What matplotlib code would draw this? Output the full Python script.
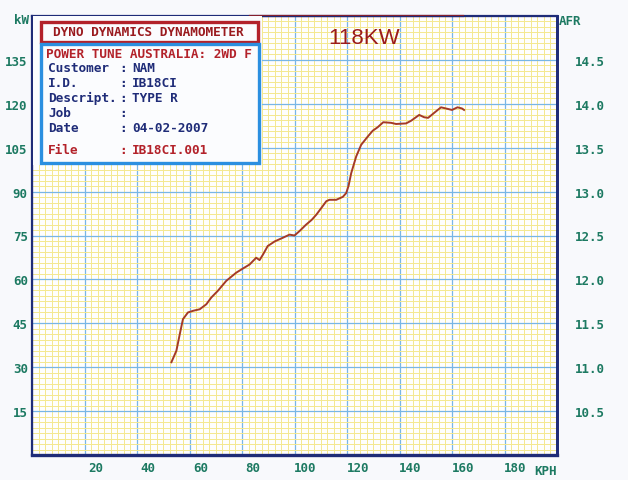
import numpy as np
import matplotlib
matplotlib.use('Agg')
from matplotlib import pyplot as plt
from matplotlib.patches import Rectangle
from matplotlib.ticker import MultipleLocator
import matplotlib.transforms as mtransforms

# dyno run
speed = [53.1, 55.0, 56.3, 57.5, 59.4, 61.5, 63.9, 66.4, 68.3, 70.8, 74.0, 77.8, 80.5, 82.9,
         85.4, 86.7, 88.0, 89.8, 92.5, 95.5, 98.1, 100.0, 101.9, 104.4, 106.5, 108.3, 110.3,
         112.1, 113.3, 115.9, 118.4, 119.7, 120.6, 121.6, 123.5, 125.4, 127.9, 129.8, 131.7,
         133.8, 136.8, 138.7, 142.5, 144.4, 147.5, 149.4, 150.9, 153.2, 155.8, 157.7, 160.0,
         162.1, 163.8, 164.6]
power = [31.7, 35.6, 41.3, 46.4, 48.7, 49.3, 49.8, 51.5, 53.8, 56.1, 59.5, 62.3, 63.8, 65.1,
         67.4, 66.6, 68.5, 71.4, 73.0, 74.2, 75.3, 75.0, 76.5, 78.7, 80.3, 82.1, 84.5,
         86.7, 87.2, 87.2, 88.2, 89.5, 92.0, 96.3, 102.0, 106.0, 108.8, 110.8, 112.0,
         113.7, 113.5, 113.1, 113.3, 114.2, 116.2, 115.4, 115.2, 116.9, 118.8, 118.4, 117.9,
         118.8, 118.4, 117.9]

kw_ticks = [15, 30, 45, 60, 75, 90, 105, 120, 135]
afr_ticks = [10.5, 11.0, 11.5, 12.0, 12.5, 13.0, 13.5, 14.0, 14.5]
kph_ticks = [20, 40, 60, 80, 100, 120, 140, 160, 180]

info_rows = [('Customer', 'NAM'), ('I.D.', 'IB18CI'), ('Descript.', 'TYPE R'),
             ('Job', ''), ('Date', '04-02-2007')]

navy = '#1f2c78'
teal = '#1d7a62'
red = '#b3222a'
mono = 'DejaVu Sans Mono'

W, H = 628, 481
fig = plt.figure(figsize=(W / 100, H / 100), dpi=100)
fig.patch.set_facecolor('#f8f9fc')
ax = fig.add_axes([32 / W, 25 / H, 525 / W, 439 / H])
ax.set_facecolor('#fefefe')

ax.set_xlim(0, 200)
ax.set_ylim(0, 150)
ax.xaxis.set_major_locator(MultipleLocator(20))
ax.xaxis.set_minor_locator(MultipleLocator(2.5))
ax.yaxis.set_major_locator(MultipleLocator(15))
ax.yaxis.set_minor_locator(MultipleLocator(1.875))
ax.grid(which='minor', color='#f4e890', lw=0.7)
ax.grid(which='major', color='#78b6e6', lw=0.9)
ax.set_axisbelow(True)

ax.plot(speed, power, color='#a53a26', lw=1.4, zorder=3)

ax.set_yticks(kw_ticks)
ax.set_yticklabels([str(v) for v in kw_ticks])
ax.set_xticks(kph_ticks)
ax.set_xticklabels([str(v) for v in kph_ticks])
ax.tick_params(axis='both', which='both', length=0, colors=teal)
ax.tick_params(axis='y', pad=3)
ax.tick_params(axis='x', pad=4)
off = mtransforms.ScaledTranslation(11 / 100, 0, fig.dpi_scale_trans)
for lab in ax.get_xticklabels():
    lab.set_transform(lab.get_transform() + off)
for lab in ax.get_xticklabels() + ax.get_yticklabels():
    lab.set_fontfamily(mono)
    lab.set_fontweight('bold')
    lab.set_fontsize(9)

ax2 = ax.twinx()
ax2.set_ylim(10, 15)
ax2.set_yticks(afr_ticks)
ax2.set_yticklabels(['%.1f' % v for v in afr_ticks])
ax2.tick_params(axis='y', length=0, pad=13, colors=teal)
for lab in ax2.get_yticklabels():
    lab.set_fontfamily(mono)
    lab.set_fontweight('bold')
    lab.set_fontsize(9)

for a in (ax, ax2):
    for s in a.spines.values():
        s.set_color(navy)
ax.spines['bottom'].set_linewidth(2.4)
ax.spines['left'].set_linewidth(1.6)
ax.spines['right'].set_linewidth(2.0)
ax.spines['top'].set_linewidth(1.6)
ax2.spines['right'].set_linewidth(2.0)
ax.plot([83, 164], [150, 150], color='#8a1f2a', lw=1.6, clip_on=False, zorder=4)

# axis captions
ax.text(-0.006, 0.992, 'kW', transform=ax.transAxes, ha='right', va='center',
        color=teal, fontsize=9, family=mono, fontweight='bold')
ax.text(1.004, 0.99, 'AFR', transform=ax.transAxes, ha='left', va='center',
        color=teal, fontsize=9, family=mono, fontweight='bold')
ax.text(195.5, -0.02, 'KPH', transform=ax.get_xaxis_transform(), ha='center', va='top',
        color=teal, fontsize=9, family=mono, fontweight='bold')

ax.text(364 / W, 1 - 38.5 / H, '118KW', transform=fig.transFigure, ha='center', va='center',
        color='#9b1b1b', fontsize=16, family='Liberation Sans')


# info panel, placed in pixel coordinates
def px(x, y):
    return x / W, 1 - y / H


fig.patches.append(Rectangle(px(32.5, 166), 229 / W, 149 / H, transform=fig.transFigure,
                             facecolor='#fbfcfe', edgecolor='none', zorder=5))
fig.patches.append(Rectangle(px(41, 43), 217 / W, 20 / H, transform=fig.transFigure,
                             facecolor='none', edgecolor=red, lw=2.4, zorder=6))
fig.patches.append(Rectangle(px(41, 164), 218 / W, 119 / H, transform=fig.transFigure,
                             facecolor='none', edgecolor='#2b8fe0', lw=2.4, zorder=6))

tkw = dict(transform=fig.transFigure, family=mono, fontweight='bold', fontsize=9.2,
           va='center', zorder=7)
fig.text(*px(148, 32.5), 'DYNO DYNAMICS DYNAMOMETER', color='#9a1a1e', ha='center', **tkw)
fig.text(*px(46, 54), 'POWER TUNE AUSTRALIA: 2WD F', color=red, ha='left', **tkw)
for i, (lab, val) in enumerate(info_rows):
    y = 68 + i * 15.2
    fig.text(*px(48, y), lab, color=navy, ha='left', **tkw)
    fig.text(*px(119, y), ':', color=navy, ha='left', **tkw)
    fig.text(*px(132, y), val, color=navy, ha='left', **tkw)
fig.text(*px(48, 151), 'File', color=red, ha='left', **tkw)
fig.text(*px(119, 151), ':', color=red, ha='left', **tkw)
fig.text(*px(132, 151), 'IB18CI.001', color=red, ha='left', **tkw)

fig.savefig('out.png', dpi=100, facecolor=fig.get_facecolor())
